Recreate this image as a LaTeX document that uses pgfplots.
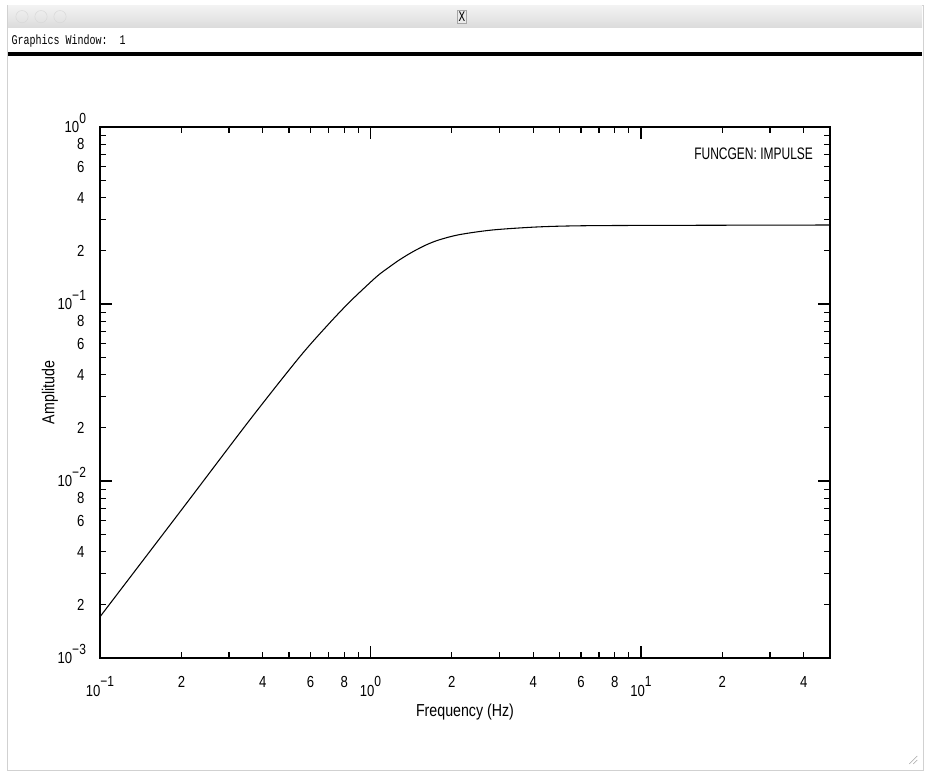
\documentclass[border=0pt]{standalone}
\usepackage{pgfplots}
\pgfplotsset{compat=1.18}
\usepackage{fontspec}
\setmainfont[FakeStretch=0.82]{Liberation Sans}
\newfontfamily\narrowfont[FakeStretch=0.72]{Liberation Sans}
\newfontfamily\monofont[FakeStretch=0.75]{Liberation Mono}
% power-of-ten label in the text font
\newcommand{\pw}[1]{10\raisebox{0.6em}{\fontsize{11}{11}\selectfont #1}}

\begin{document}
\begin{tikzpicture}
% window frame (1 px = 0.75pt)
\fill[white] (0,0) rectangle (697.5pt,-579.75pt);
\draw[black!18] (5.25pt,-3.75pt) rectangle (692.25pt,-577.5pt);
\shade[top color=black!5, bottom color=black!14] (6pt,-4.3pt) rectangle (691.5pt,-21pt);
\foreach \cx in {16.5,30.75,45}
  \draw[black!15] (\cx pt,-12.5pt) circle (4.6pt);
\node[draw=black!35, fill=black!8, inner sep=1pt,
      font=\monofont\fontsize{11}{11}\selectfont] at (346.5pt,-12.5pt) {X};
\node[anchor=west, inner sep=0pt, font=\monofont\fontsize{10}{12}\selectfont]
  at (8.5pt,-30.75pt) {Graphics Window:\ \ 1};
\fill[black] (6pt,-39.2pt) rectangle (691.5pt,-42.3pt);
\draw[black!35] (682pt,-573pt) -- (688pt,-567pt) (685pt,-573pt) -- (688pt,-570pt);

\begin{axis}[
    at={(75pt,-493.5pt)}, anchor=south west,
    scale only axis, width=547.5pt, height=398.25pt,
    xmode=log, ymode=log,
    xmin=0.1, xmax=50, ymin=1e-3, ymax=1,
    axis line style={line width=1.1pt},
    every tick/.style={black, line width=0.9pt},
    tick align=inside,
    major tick length=9pt, minor tick length=4.5pt,
    tick label style={font=\fontsize{12}{12}\selectfont},
    xtick={0.1,1,10},
    xticklabels={\pw{−1},\pw{0},\pw{1}},
    xticklabel style={anchor=north, yshift=-10.5pt},
    minor xtick={0.2,0.3,0.4,0.5,0.6,0.7,0.8,0.9,2,3,4,5,6,7,8,9,20,30,40},
    ytick={0.001,0.01,0.1,1},
    yticklabels={\pw{−3},\pw{−2},\pw{−1},\pw{0}},
    yticklabel style={anchor=base east, xshift=-7pt, yshift=-4.3pt},
    minor ytick={0.002,0.003,0.004,0.005,0.006,0.007,0.008,0.009,
                 0.02,0.03,0.04,0.05,0.06,0.07,0.08,0.09,
                 0.2,0.3,0.4,0.5,0.6,0.7,0.8,0.9},
    extra x ticks={0.2,0.4,0.6,0.8,2,4,6,8,20,40},
    extra x tick labels={2,4,6,8,2,4,6,8,2,4},
    extra x tick style={major tick length=4.5pt,
        tick label style={anchor=north, yshift=0pt}},
    extra y ticks={0.002,0.004,0.006,0.008,0.02,0.04,0.06,0.08,0.2,0.4,0.6,0.8},
    extra y tick labels={2,4,6,8,2,4,6,8,2,4,6,8},
    extra y tick style={major tick length=4.5pt,
        tick label style={anchor=east, xshift=-1.2pt, yshift=0pt}},
    xlabel={Frequency (Hz)},
    xlabel style={at={(axis description cs:0.5,0)}, anchor=center,
        yshift=-40.5pt, font=\fontsize{13}{13}\selectfont},
    ylabel={Amplitude},
    ylabel style={at={(axis description cs:0,0.5)}, anchor=center,
        yshift=37.5pt, font=\fontsize{13}{13}\selectfont},
]
\addplot[black, line width=0.8pt, no marks, smooth, tension=0.5] coordinates {
    (0.1,0.00171) (0.2,0.00686) (0.3577,0.0221) (0.547,0.0502)
    (0.70,0.0770) (0.837,0.1026) (1.0,0.1328) (1.079,0.1472)
    (1.175,0.1620) (1.279,0.1775) (1.429,0.1968) (1.609,0.2160)
    (1.797,0.2305) (2.130,0.2465) (2.820,0.2619) (4.098,0.2723)
    (5.80,0.2765) (10.09,0.2780) (50,0.2795)
};
\node[anchor=east, inner sep=0pt, font=\narrowfont\fontsize{12.5}{12.5}\selectfont]
    at (rel axis cs:0.977,0.949) {FUNCGEN: IMPULSE};
\end{axis}
\end{tikzpicture}
\end{document}
